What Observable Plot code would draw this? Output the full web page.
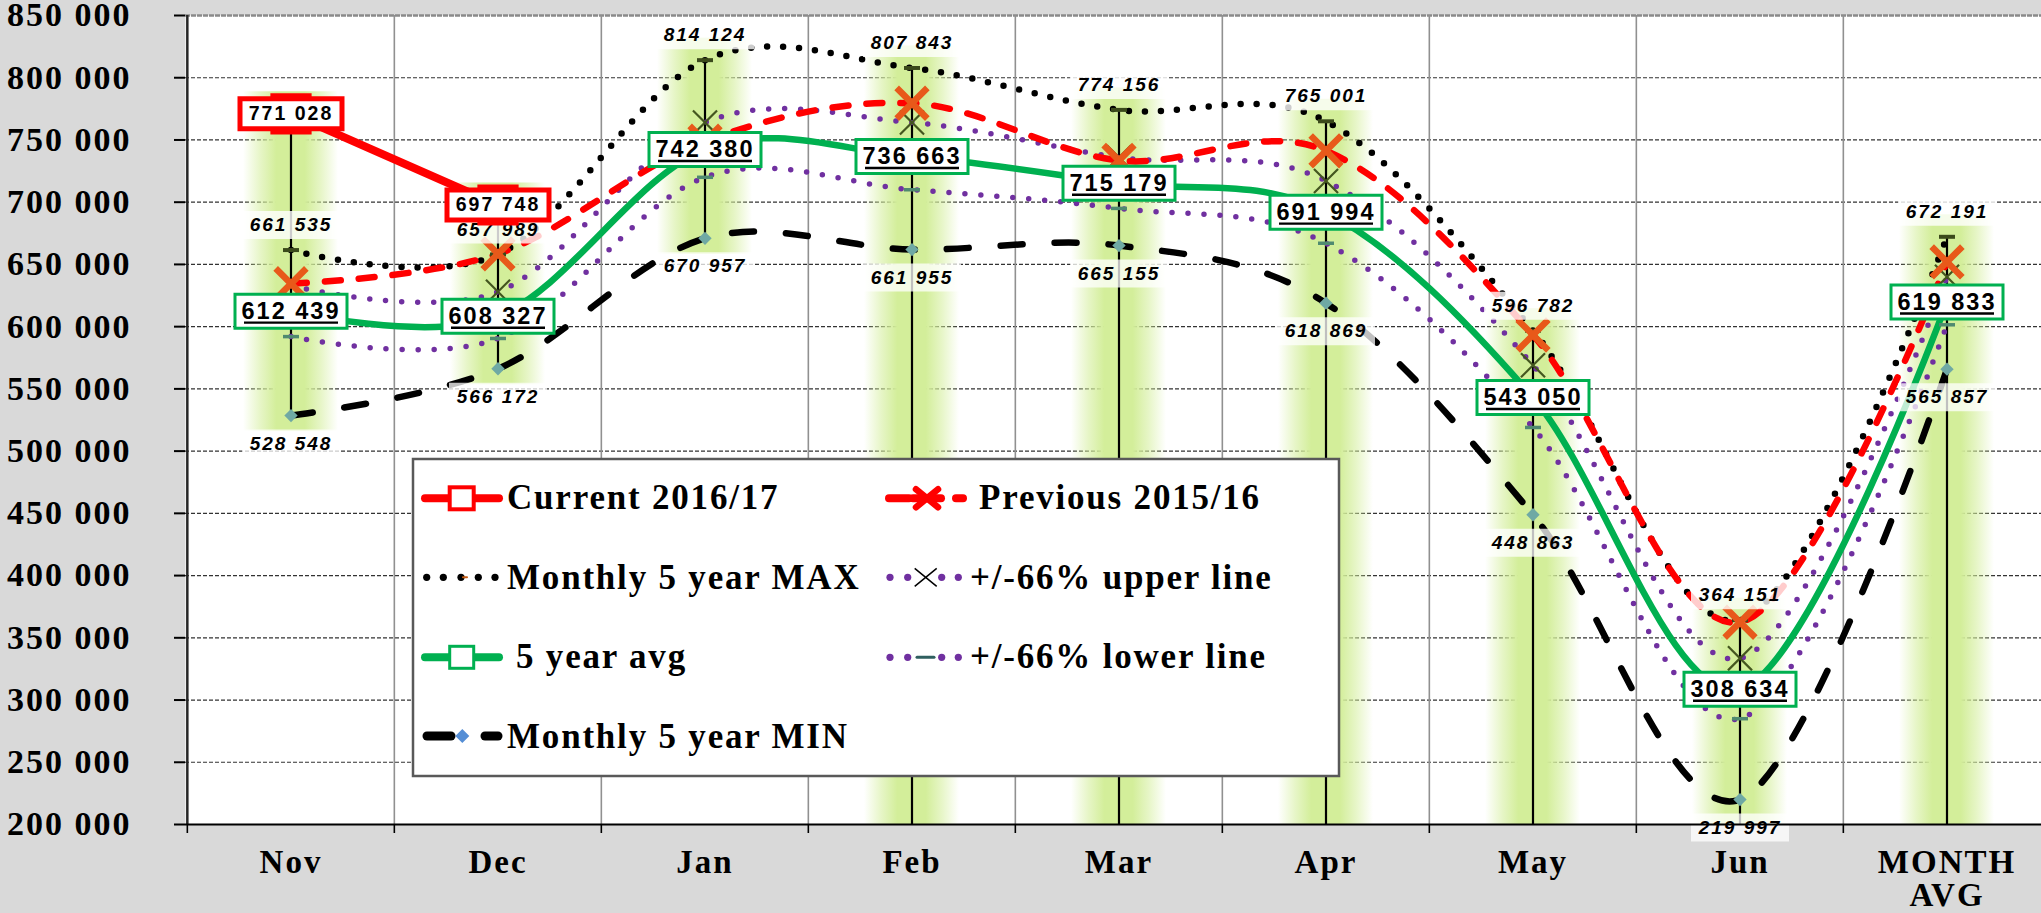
<!DOCTYPE html>
<html><head><meta charset="utf-8">
<script src="https://cdn.jsdelivr.net/npm/d3@7"></script>
<script src="https://cdn.jsdelivr.net/npm/@observablehq/plot@0.6"></script>
<style>
html,body{margin:0;padding:0;background:#d9d9d9;overflow:hidden;}
</style></head>
<body><div id="chart"></div>
<script>
// ---------- data ----------
const months = ["Nov","Dec","Jan","Feb","Mar","Apr","May","Jun","MONTH AVG"];
// Excel plots the not-yet-reported months of the current season as zero (below the axis)
const current2016 = [771028, 697748, null, 0, 0, 0, 0, 0, 0];
const previous2015 = [634500, 658500, 749000, 779500, 733500, 741300, 593300, 362500, 652000];
const max5 = [661535, 657989, 814124, 807843, 774156, 765001, 596782, 364151, 672191];
const upper66 = [633000, 628000, 764000, 764000, 736000, 717000, 569000, 333500, 640000];
const avg5 = [612439, 608327, 742380, 736663, 715179, 691994, 543050, 308634, 619833];
const lower66 = [592000, 590500, 720000, 710000, 695000, 667000, 519000, 285000, 601500];
const min5 = [528548, 566172, 670957, 661955, 665155, 618869, 448863, 219997, 565857];
const yTicks = d3.range(200000, 850001, 50000);
const legendLabels = ["Current 2016/17","Previous 2015/16","Monthly 5 year MAX","+/-66% upper line","5 year avg","+/-66% lower line","Monthly 5 year MIN"];

const rows = months.map((month, i) => ({
  month,
  current: current2016[i], previous: previous2015[i], max: max5[i], upper: upper66[i],
  avg: avg5[i], lower: lower66[i], min: min5[i],
  hi: d3.max([current2016[i], max5[i]]), lo: d3.min([current2016[i], min5[i]])
}));
const currentRows = rows.filter(d => d.current > 0);
const fmt = v => d3.format(",")(v).replace(/,/g, " ");

// ---------- layout ----------
const W = 2052, H = 913, ML = 185, MR = 1, MT = 15, MB = 89;
const BW = (W - ML - MR) / months.length;
const serif = "'Liberation Serif','Times New Roman',serif";
const sans = "Arial,'Liberation Sans',sans-serif";

const box = (w, h) => ({draw(c){c.moveTo(-w/2,-h/2);c.lineTo(w/2,-h/2);c.lineTo(w/2,h/2);c.lineTo(-w/2,h/2);c.closePath();}});
const hline = (w, oy = 0) => ({draw(c){c.moveTo(-w/2,oy);c.lineTo(w/2,oy);}});

const X = {x: "month"};
const chart = Plot.plot({
  width: W, height: H, marginTop: MT, marginBottom: MB, marginLeft: ML, marginRight: MR,
  style: {background: "#d9d9d9", fontFamily: serif, fontSize: "34px", fontWeight: "bold",
          letterSpacing: "2px", maxWidth: "none", color: "black"},
  x: {type: "band", domain: months, padding: 0, axis: null},
  y: {domain: [200000, 850000], clamp: true, ticks: yTicks, tickFormat: fmt,
      tickSize: 11, tickPadding: 43, label: null},
  marks: [
    Plot.frame({fill: "white", stroke: null}),
    Plot.ruleY(yTicks.filter(v => v > 200000 && v < 850000), {stroke: "#333", strokeWidth: 1.2, strokeDasharray: "4 2"}),
    Plot.ruleY([850000], {stroke: "#8a8a8a", strokeWidth: 2.5, strokeDasharray: "5 1"}),
    Plot.ruleX(months.slice(1), {dx: -BW/2, stroke: "#909090", strokeWidth: 1.6}),
    // glow of high-low lines
    Plot.barY(rows, {...X, y1: "lo", y2: "hi", fill: "url(#glow)", insetLeft: 56, insetRight: 56, insetTop: -22, insetBottom: -16, clip: true}),
    Plot.ruleX(rows, {...X, y1: "lo", y2: "hi", stroke: "black", strokeWidth: 2.2}),
    // series lines
    Plot.line(rows, {...X, y: "min", stroke: "black", strokeWidth: 6.5, strokeDasharray: "22 32", strokeLinecap: "round", curve: "cardinal"}),
    Plot.line(rows, {...X, y: "lower", stroke: "#7030a0", strokeWidth: 5.5, strokeDasharray: "0 16", strokeLinecap: "round", curve: "cardinal"}),
    Plot.line(rows, {...X, y: "avg", stroke: "#00b050", strokeWidth: 6.5, curve: "cardinal"}),
    Plot.line(rows, {...X, y: "upper", stroke: "#7030a0", strokeWidth: 5.5, strokeDasharray: "0 16", strokeLinecap: "round", curve: "cardinal"}),
    Plot.line(rows, {...X, y: "max", stroke: "black", strokeWidth: 6.5, strokeDasharray: "0 16", strokeLinecap: "round", curve: "cardinal"}),
    Plot.line(rows, {...X, y: "previous", stroke: "#ff0000", strokeWidth: 6.5, strokeDasharray: "16 18", strokeLinecap: "round", curve: "cardinal"}),
    Plot.line(currentRows, {...X, y: "current", stroke: "#ff0000", strokeWidth: 8}),
    // markers
    Plot.dot(rows, {...X, y: "min", symbol: "diamond2", r: 6, fill: "#6fa9a4", stroke: "none"}),
    Plot.dot(rows, {...X, y: "lower", symbol: hline(16), stroke: "#4f8a70", strokeWidth: 3.5, fill: "none"}),
    Plot.dot(rows, {...X, y: "upper", symbol: "times", r: 11, stroke: "#44561f", strokeWidth: 2.2}),
    Plot.dot(rows, {...X, y: "max", symbol: hline(16), stroke: "#3b4a1b", strokeWidth: 4, fill: "none"}),
    Plot.dot(rows, {...X, y: "previous", symbol: "times", r: 14, stroke: "#e8591a", strokeWidth: 6.5}),
    // max / min labels
    Plot.dot(rows, {...X, y: "max", dy: -25, symbol: box(98, 28), fill: "white", fillOpacity: 0.8, stroke: "none"}),
    Plot.text(rows, {...X, y: "max", dy: -25, text: d => fmt(d.max), fontFamily: sans, fontStyle: "italic", fontWeight: "bold", fontSize: 19}),
    Plot.dot(rows, {...X, y: "min", dy: 28, symbol: box(98, 28), fill: "white", fillOpacity: 0.75, stroke: "none"}),
    Plot.text(rows, {...X, y: "min", dy: 28, text: d => fmt(d.min), fontFamily: sans, fontStyle: "italic", fontWeight: "bold", fontSize: 19}),
    // 5 year avg boxed labels
    Plot.dot(rows, {...X, y: "avg", symbol: box(112, 34), fill: "white", stroke: "#00b050", strokeWidth: 3}),
    Plot.text(rows, {...X, y: "avg", text: d => fmt(d.avg), fontFamily: sans, fontWeight: "bold", fontSize: 23.5}),
    Plot.dot(rows, {...X, y: "avg", symbol: hline(94, 11.5), stroke: "black", strokeWidth: 2.4, fill: "none"}),
    // current boxed labels
    Plot.dot(currentRows, {...X, y: "current", symbol: "square", r: 21, fill: "white", stroke: "#ff0000", strokeWidth: 4}),
    Plot.dot(currentRows, {...X, y: "current", symbol: box(102, 30), fill: "white", stroke: "#ff0000", strokeWidth: 5}),
    Plot.text(currentRows, {...X, y: "current", text: d => fmt(d.current), fontFamily: sans, fontWeight: "bold", fontSize: 19.5}),
    // axes lines
    Plot.ruleX([months[0]], {dx: -BW/2, stroke: "#262626", strokeWidth: 2.5}),
    Plot.ruleY([200000], {stroke: "black", strokeWidth: 2.2}),
    Plot.ruleX(months, {dx: -BW/2, y1: 200000, y2: 200000, insetBottom: -9, stroke: "black", strokeWidth: 1.6}),
    // x tick labels
    Plot.text(months, {x: d => d, text: d => d === "MONTH AVG" ? "MONTH\nAVG" : d, frameAnchor: "bottom",
      lineAnchor: "top", dy: 25, fontSize: 33, lineHeight: 1.0})
  ]
});
document.getElementById("chart").appendChild(chart);

const svg = d3.select(chart);
// gradient for glow
const grad = svg.insert("defs", ":first-child").append("linearGradient")
  .attr("id", "glow").attr("x1", 0).attr("x2", 1).attr("y1", 0).attr("y2", 0);
[[0, 0], [0.18, 0.55], [0.35, 1], [0.65, 1], [0.82, 0.55], [1, 0]].forEach(([o, a]) =>
  grad.append("stop").attr("offset", o).attr("stop-color", "#d3ee9a").attr("stop-opacity", a));
svg.selectAll('[aria-label^="y-axis"] line, [aria-label^="y-axis"] path').attr("stroke-width", 2);

// ---------- legend ----------
const lg = svg.append("g").attr("transform", "translate(413,459)")
  .style("font-family", serif).style("font-size", "35px").style("font-weight", "bold").style("letter-spacing", "1.8px");
lg.append("rect").attr("width", 926).attr("height", 317).attr("fill", "white").attr("stroke", "#595959").attr("stroke-width", 2.5);
const rowY = [39.3, 118.3, 198.3, 277];
const baseY = [50.3, 129.5, 209, 288.5];
const txt = (x, y, s) => lg.append("text").attr("x", x).attr("y", y).attr("text-anchor", "start").attr("fill", "black").text(s);
const ln = (x1, x2, y, color, w) => lg.append("line").attr("x1", x1).attr("x2", x2).attr("y1", y).attr("y2", y)
    .attr("stroke", color).attr("stroke-width", w).attr("stroke-linecap", "round");
const dotRow = (xs, y, color) => xs.forEach(x => lg.append("circle").attr("cx", x).attr("cy", y).attr("r", 3.6).attr("fill", color));
// Current
ln(12, 86, rowY[0], "#ff0000", 8);
lg.append("rect").attr("x", 36.7).attr("y", rowY[0] - 11).attr("width", 24).attr("height", 22).attr("fill", "white").attr("stroke", "#ff0000").attr("stroke-width", 4);
txt(94, baseY[0], legendLabels[0]);
// Previous
ln(476, 496, rowY[0], "#ff0000", 8);
ln(500, 528, rowY[0], "#ff0000", 8);
ln(503, 525, rowY[0] - 9, "#ff0000", 6.5).attr("y2", rowY[0] + 9);
ln(503, 525, rowY[0] + 9, "#ff0000", 6.5).attr("y2", rowY[0] - 9);
ln(543, 550, rowY[0], "#ff0000", 8);
txt(566, baseY[0], legendLabels[1]);
// MAX
dotRow([13.7, 30.3, 48, 65.3, 82], rowY[1], "black");
ln(50, 54, rowY[1], "#c55a11", 2);
txt(94, baseY[1], legendLabels[2]);
// upper
dotRow([477, 494.7, 528.7, 545.3], rowY[1], "#7030a0");
lg.append("path").attr("d", `M501.7,${rowY[1]-9}L523.7,${rowY[1]+9}M501.7,${rowY[1]+9}L523.7,${rowY[1]-9}`).attr("stroke", "black").attr("stroke-width", 1.5);
txt(557, baseY[1], legendLabels[3]);
// avg
ln(12, 86, rowY[2], "#00b050", 8);
lg.append("rect").attr("x", 36.7).attr("y", rowY[2] - 11).attr("width", 24).attr("height", 22).attr("fill", "white").attr("stroke", "#00b050").attr("stroke-width", 3);
txt(103, baseY[2], legendLabels[4]);
// lower
dotRow([477, 494.7, 528.7, 545.3], rowY[2], "#7030a0");
ln(504, 521, rowY[2], "#2f5f5f", 3);
txt(557, baseY[2], legendLabels[5]);
// MIN
ln(14, 38, rowY[3], "black", 9);
lg.append("path").attr("d", `M49.3,${rowY[3]-7}L56.3,${rowY[3]}L49.3,${rowY[3]+7}L42.3,${rowY[3]}Z`).attr("fill", "#558ed5");
ln(72, 85, rowY[3], "black", 9);
txt(94, baseY[3], legendLabels[6]);
</script>
</body></html>
